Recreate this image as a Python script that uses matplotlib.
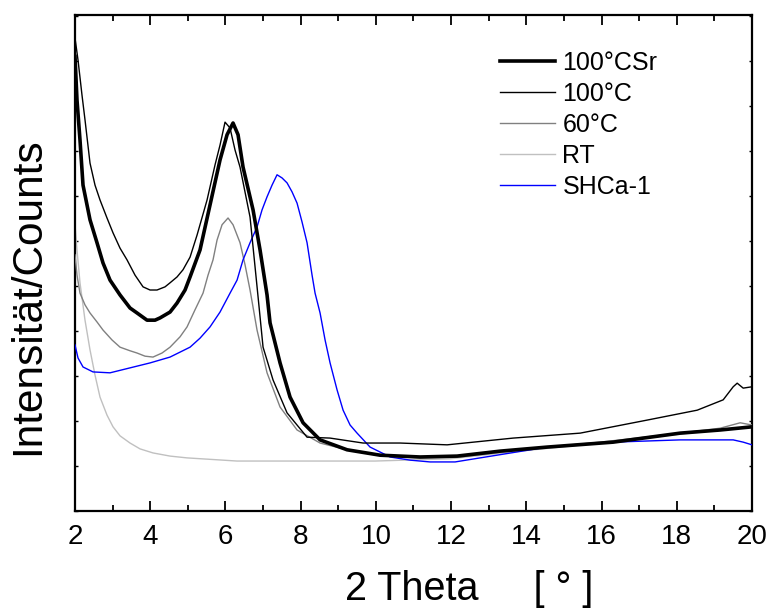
import matplotlib
matplotlib.use("Agg")
import matplotlib.pyplot as plt
from matplotlib.ticker import MultipleLocator

plt.rcParams['font.family'] = ['Liberation Sans', 'DejaVu Sans']

# ---- data (arbitrary counts) ----
x_csr = [2.0, 2.053, 2.133, 2.213, 2.399, 2.585, 2.745, 2.931, 3.197, 3.463, 3.649, 3.915,
         4.128, 4.261, 4.527, 4.713, 4.926, 5.059, 5.324, 5.590, 5.856, 6.043, 6.202, 6.335,
         6.468, 6.734, 6.920, 7.106, 7.186, 7.452, 7.718, 8.064, 8.516, 9.234, 10.112, 11.176,
         12.160, 13.303, 14.553, 16.309, 18.090, 19.154, 20.0]
y_csr = [1010, 913, 824, 724, 647, 596, 551, 513, 480, 451, 440, 424,
         424, 429, 442, 462, 491, 520, 580, 680, 780, 836, 862, 836,
         764, 669, 580, 480, 418, 329, 253, 196, 158, 136, 124, 120,
         122, 133, 142, 153, 173, 180, 187]

x_100 = [2.0, 2.080, 2.186, 2.266, 2.399, 2.532, 2.665, 2.851, 3.011, 3.197, 3.383, 3.596,
         3.809, 3.995, 4.181, 4.394, 4.527, 4.713, 4.872, 5.059, 5.245, 5.511, 5.723, 5.856,
         5.989, 6.122, 6.255, 6.388, 6.654, 6.867, 7.0, 7.266, 7.638, 8.170, 8.782, 9.660,
         10.644, 11.894, 13.649, 15.431, 17.213, 18.543, 19.234, 19.500, 19.606, 19.766, 20.0]
y_100 = [1051, 1002, 924, 869, 773, 724, 691, 651, 618, 584, 558, 524,
         498, 491, 491, 498, 507, 520, 536, 564, 613, 691, 769, 813,
         864, 851, 802, 764, 653, 476, 364, 291, 218, 164, 162, 151,
         151, 147, 162, 173, 202, 224, 247, 276, 284, 273, 276]

x_60 = [2.0, 2.053, 2.133, 2.266, 2.399, 2.585, 2.745, 2.984, 3.197, 3.463, 3.649, 3.862,
        4.074, 4.314, 4.527, 4.793, 4.979, 5.191, 5.404, 5.537, 5.670, 5.777, 5.910, 6.069,
        6.202, 6.388, 6.521, 6.654, 6.840, 7.106, 7.452, 7.904, 8.516, 9.234, 10.112, 11.176,
        12.239, 13.835, 15.963, 18.090, 19.154, 19.686, 20.0]
y_60 = [569, 524, 484, 458, 440, 420, 402, 380, 364, 356, 351, 344,
        342, 351, 364, 387, 409, 447, 484, 524, 558, 602, 636, 651,
        636, 596, 547, 491, 402, 307, 231, 180, 151, 136, 124, 118,
        120, 136, 153, 173, 184, 196, 191]

x_rt = [2.0, 2.053, 2.133, 2.266, 2.399, 2.532, 2.665, 2.851, 3.011, 3.197, 3.463, 3.729,
        4.074, 4.527, 4.979, 6.309, 7.984, 9.979, 11.973, 13.835, 15.963, 18.090, 19.154, 20.0]
y_rt = [636, 580, 507, 424, 358, 302, 253, 213, 187, 167, 151, 138,
        129, 122, 118, 111, 111, 111, 116, 133, 151, 171, 180, 187]

x_sh = [2.0, 2.080, 2.213, 2.479, 2.931, 3.463, 3.995, 4.527, 5.059, 5.324, 5.590, 5.856,
        6.122, 6.309, 6.468, 6.654, 6.840, 6.973, 7.106, 7.239, 7.372, 7.505, 7.638, 7.771,
        7.904, 8.037, 8.170, 8.303, 8.383, 8.516, 8.649, 8.782, 8.968, 9.128, 9.314, 9.500,
        9.846, 10.378, 10.910, 11.441, 12.106, 12.771, 14.553, 16.309, 18.090, 19.500, 19.766, 20.0]
y_sh = [369, 340, 320, 309, 307, 318, 329, 342, 364, 384, 409, 442,
        484, 513, 558, 596, 631, 669, 698, 724, 747, 740, 729, 709,
        684, 642, 596, 524, 484, 440, 380, 329, 269, 224, 191, 173,
        142, 120, 113, 109, 109, 118, 142, 153, 158, 158, 153, 147]

labels = ["100°CSr", "100°C", "60°C", "RT", "SHCa-1"]
x_ticks = [2, 4, 6, 8, 10, 12, 14, 16, 18, 20]

fig = plt.figure(figsize=(7.68, 6.10), dpi=100)
ax = fig.add_axes([75 / 768, 99 / 610, 677 / 768, 496 / 610])

ax.plot(x_rt, y_rt, color='#c0c0c0', lw=1.0, label=labels[3], zorder=2)
ax.plot(x_60, y_60, color='#808080', lw=1.0, label=labels[2], zorder=3)
ax.plot(x_sh, y_sh, color='#0000ff', lw=1.0, label=labels[4], zorder=4)
ax.plot(x_100, y_100, color='black', lw=1.0, label=labels[1], zorder=5)
ax.plot(x_csr, y_csr, color='black', lw=2.6, label=labels[0], zorder=6)

ax.set_xlim(2, 20)
ax.set_ylim(0, 1102)
ax.set_xticks(x_ticks)
ax.xaxis.set_minor_locator(MultipleLocator(1))
ax.yaxis.set_major_locator(MultipleLocator(100))
ax.tick_params(axis='x', which='major', direction='in', length=7, width=1.3,
               top=True, labelsize=20, pad=9)
ax.tick_params(axis='x', which='minor', direction='in', length=4, width=1.3, top=True)
ax.tick_params(axis='y', which='major', direction='in', length=2.5, width=1.0,
               right=True, labelleft=False)
for s in ax.spines.values():
    s.set_linewidth(1.6)

fig.text(28 / 768, 314 / 610, "Intensität/Counts", fontsize=30.5, rotation=90,
         ha='center', va='center')
fig.text(345 / 768, 10 / 610, "2 Theta     [ ° ]", fontsize=28.5, ha='left', va='baseline')

h, l = ax.get_legend_handles_labels()
order = [l.index(t) for t in labels]
ax.legend([h[i] for i in order], [l[i] for i in order], frameon=False, fontsize=18,
          loc='upper left', bbox_to_anchor=(500 / 768, 559 / 610),
          bbox_transform=fig.transFigure, handlelength=2.2, handletextpad=0.3,
          labelspacing=0.28, borderaxespad=0, borderpad=0)

fig.savefig("out.png", dpi=100)
